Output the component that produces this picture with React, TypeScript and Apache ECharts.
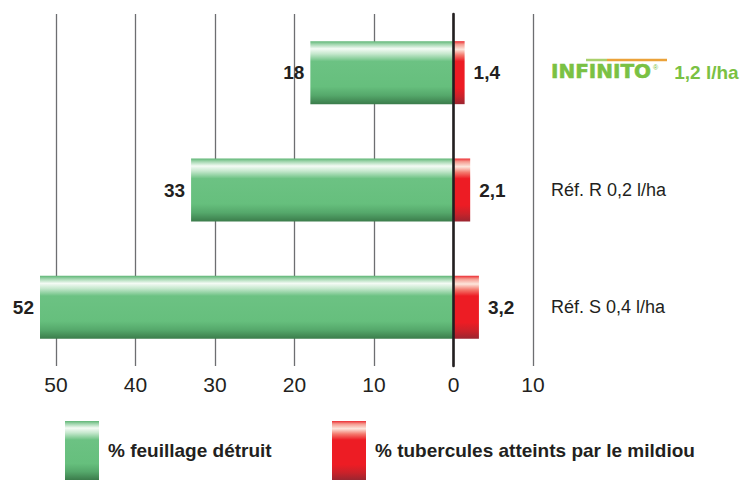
import React, { useEffect, useRef } from "react";
import * as echarts from "echarts";

const products = ["INFINITO", "Réf. R", "Réf. S"];
const doses = ["1,2 l/ha", "0,2 l/ha", "0,4 l/ha"];
const feuillageDetruit = [18, 33, 52];
const tuberculesAtteints = [1.4, 2.1, 3.2];
const axisTicks = [-50, -40, -30, -20, -10, 0, 10];
const seriesNames = ["% feuillage détruit", "% tubercules atteints par le mildiou"];

const FONT = "'Liberation Sans', Arial, Helvetica, sans-serif";
const TEXT = "#231f20";
const LOGO_GREEN = "#7ac143";

const greenGradient = new echarts.graphic.LinearGradient(0, 0, 0, 1, [
  { offset: 0, color: "#5fb676" },
  { offset: 0.05, color: "#a3d7b0" },
  { offset: 0.12, color: "#f4fbf5" },
  { offset: 0.2, color: "#c6e8ce" },
  { offset: 0.32, color: "#6cc283" },
  { offset: 0.72, color: "#66bf7d" },
  { offset: 0.86, color: "#55a86b" },
  { offset: 1, color: "#3b7c4b" },
]);
const redGradient = new echarts.graphic.LinearGradient(0, 0, 0, 1, [
  { offset: 0, color: "#ec2d33" },
  { offset: 0.05, color: "#f59a8f" },
  { offset: 0.13, color: "#fde6dc" },
  { offset: 0.22, color: "#f47a6e" },
  { offset: 0.32, color: "#ed1c24" },
  { offset: 0.74, color: "#ed1c24" },
  { offset: 0.88, color: "#c9222a" },
  { offset: 1, color: "#9b2530" },
]);

const fmtComma = (v: number) => String(v).replace(".", ",");

export default function App() {
  const ref = useRef<HTMLDivElement>(null);
  useEffect(() => {
    if (!ref.current) return;
    const chart = echarts.init(ref.current, null, { renderer: "svg" });
    const categories = products.map((p, i) => p + " " + doses[i]);
    chart.setOption({
      animation: false,
      backgroundColor: "#ffffff",
      textStyle: { fontFamily: FONT },
      grid: { left: 40, right: 209, top: 14, bottom: 114, containLabel: false },
      legend: [
        {
          data: [seriesNames[0]],
          left: 65,
          top: 421,
          padding: 0,
          icon: "rect",
          itemWidth: 34,
          itemHeight: 59,
          selectedMode: false,
          textStyle: { fontFamily: FONT, fontSize: 19, fontWeight: "bold", color: TEXT, padding: [2, 0, 0, 4] },
        },
        {
          data: [seriesNames[1]],
          left: 332,
          top: 421,
          padding: 0,
          icon: "rect",
          itemWidth: 34,
          itemHeight: 59,
          selectedMode: false,
          textStyle: { fontFamily: FONT, fontSize: 19, fontWeight: "bold", color: TEXT, padding: [2, 0, 0, 4] },
        },
      ],
      xAxis: {
        type: "value",
        min: -52,
        max: 10,
        axisLine: { show: false },
        axisTick: { show: false, customValues: axisTicks },
        axisLabel: {
          customValues: axisTicks,
          formatter: (v: number) => String(Math.abs(v)),
          fontSize: 21,
          fontFamily: FONT,
          color: TEXT,
          margin: 8,
        },
        splitLine: { show: true, lineStyle: { color: "#6d6e71", width: 1.3 } },
      },
      yAxis: [
        {
          type: "category",
          data: categories,
          inverse: true,
          z: 10,
          axisLine: { show: true, onZero: true, lineStyle: { color: TEXT, width: 2.6 } },
          axisTick: { show: false },
          axisLabel: { show: false },
          splitLine: { show: false },
        },
        {
          type: "category",
          data: categories,
          inverse: true,
          position: "right",
          axisLine: { show: false },
          axisTick: { show: false },
          splitLine: { show: false },
          axisLabel: {
            margin: 18,
            fontSize: 18,
            fontFamily: FONT,
            color: TEXT,
            formatter: (_v: string, i: number) => {
              if (i === 0) {
                return "{logo|" + products[0] + "}{reg|®}{g|" + doses[0] + "}";
              }
              return products[i] + " " + doses[i];
            },
            rich: {
              logo: {
                fontFamily: "'DejaVu Sans', sans-serif",
                fontWeight: 900,
                fontSize: 20,
                color: LOGO_GREEN,
                textBorderColor: LOGO_GREEN,
                textBorderWidth: 0.6,
                padding: [0, 0, 4, 0],
              },
              reg: {
                fontSize: 7,
                color: LOGO_GREEN,
                verticalAlign: "top",
                padding: [3, 0, 0, 2],
              },
              g: {
                fontFamily: FONT,
                fontWeight: "bold",
                fontSize: 19,
                color: LOGO_GREEN,
                padding: [0, 0, 0, 16],
              },
            },
          },
        },
      ],
      graphic: [
        {
          type: "line",
          shape: { x1: 586, y1: 60, x2: 607, y2: 60 },
          style: { stroke: "#a9d06c", lineWidth: 2.5 },
          silent: true,
        },
        {
          type: "line",
          shape: { x1: 607, y1: 60, x2: 667, y2: 60 },
          style: { stroke: "#eba23a", lineWidth: 2.5 },
          silent: true,
        },
      ],
      series: [
        {
          name: seriesNames[0],
          type: "bar",
          yAxisIndex: 0,
          barWidth: 63,
          barGap: "-100%",
          z: 2,
          data: feuillageDetruit.map((v) => -v),
          itemStyle: { color: greenGradient },
          label: {
            show: true,
            position: "left",
            distance: 6,
            formatter: (p: any) => fmtComma(Math.abs(p.value)),
            fontFamily: FONT,
            fontSize: 19,
            fontWeight: "bold",
            color: TEXT,
          },
        },
        {
          name: seriesNames[1],
          type: "bar",
          yAxisIndex: 0,
          barWidth: 63,
          barGap: "-100%",
          z: 2,
          data: tuberculesAtteints,
          itemStyle: { color: redGradient },
          label: {
            show: true,
            position: "right",
            distance: 9,
            formatter: (p: any) => fmtComma(p.value),
            fontFamily: FONT,
            fontSize: 19,
            fontWeight: "bold",
            color: TEXT,
          },
        },
      ],
    });
    return () => chart.dispose();
  }, []);
  return (
    <div
      ref={ref}
      style={{ position: "fixed", left: 0, top: 0, width: 742, height: 480, background: "#fff" }}
    />
  );
}
